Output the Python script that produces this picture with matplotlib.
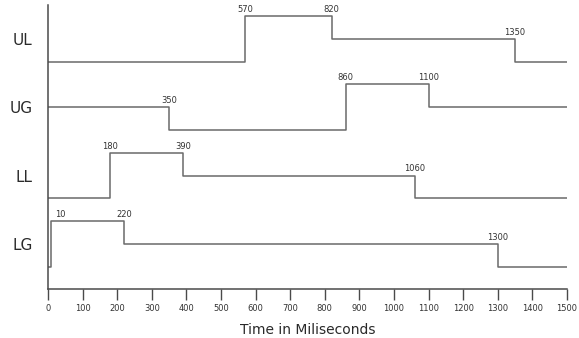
import matplotlib.pyplot as plt

# signal names, top to bottom
signals = ['UL', 'UG', 'LL', 'LG']

# transition times (ms) and the level after each one: 0 low, 1 mid, 2 high
times = {
    'UL': [0, 570, 820, 1350],
    'UG': [0, 350, 860, 1100],
    'LL': [0, 180, 390, 1060],
    'LG': [0, 10, 220, 1300],
}
states = {
    'UL': [0, 2, 1, 0],
    'UG': [1, 0, 2, 1],
    'LL': [0, 2, 1, 0],
    'LG': [0, 2, 1, 0],
}
t_end = 1500
xticks = list(range(0, 1501, 100))

plt.rcParams['font.family'] = ['DejaVu Sans']

fig = plt.figure(figsize=(5.79, 3.38), dpi=100)
ax = fig.add_axes([0.0829, 0.145, 0.8964, 0.840])

line_col = '#6a6a6a'
axis_col = '#4a4a4a'

n = len(signals)
for i, name in enumerate(signals):
    base = (n - 1 - i) * 3
    t = times[name] + [t_end]
    s = states[name] + [states[name][-1]]
    ys = [base + v for v in s]
    ax.step(t, ys, where='post', color=line_col, lw=1.1)
    # label every transition above the higher of the two levels
    for k in range(1, len(times[name])):
        top = base + max(states[name][k - 1], states[name][k])
        tx = times[name][k]
        ha = 'center'
        if tx < 40:
            ha = 'left'
            tx = tx + 10
        ax.text(tx, top + 0.1, str(times[name][k]), ha=ha, va='bottom',
                fontsize=6, color='#333333')

ax.set_xlim(0, t_end)
ax.set_ylim(-0.97, 11.48)
ax.set_xticks(xticks)
ax.set_xticklabels([str(v) for v in xticks], fontsize=6, color='#333333')
ax.set_yticks([(n - 1 - i) * 3 + 1 for i in range(n)])
ax.set_yticklabels(signals, fontsize=11, color='#2a2a2a')
ax.tick_params(axis='x', direction='out', length=8, width=1, color=axis_col, pad=3)
ax.tick_params(axis='y', length=0, pad=11)

for side in ['top', 'right']:
    ax.spines[side].set_visible(False)
for side in ['left', 'bottom']:
    ax.spines[side].set_color(axis_col)
    ax.spines[side].set_linewidth(1.1)

ax.set_xlabel('Time in Miliseconds', fontsize=10, color='#2a2a2a', labelpad=7)

fig.savefig('out.png', dpi=100)
